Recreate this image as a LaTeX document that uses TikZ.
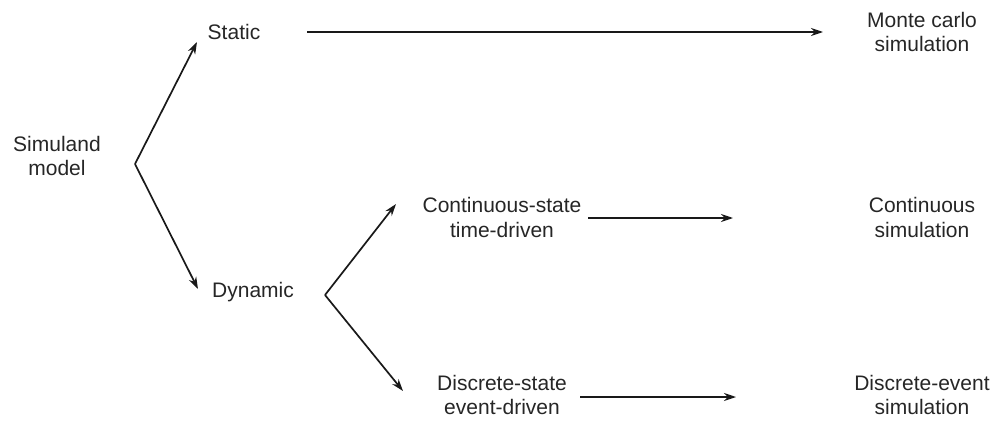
\documentclass[tikz,border=0pt]{standalone}
\usepackage{fontspec}
\setmainfont{Liberation Sans}
\usetikzlibrary{arrows.meta}
\begin{document}
\begin{tikzpicture}[x=1pt,y=-1pt,
  lbl/.style={align=center,inner sep=0pt,font=\fontsize{21}{24.5}\selectfont,text=black!85},
  arr/.style={line width=1.7pt,-{Stealth[length=12pt,width=8pt]},black!90}]
\useasboundingbox (0,0) rectangle (1003,420);
% nodes
\node[lbl] (sim) at (57,156) {Simuland\\model};
\node[lbl] (static) at (234,32) {Static};
\node[lbl] (monte) at (922,32) {Monte carlo\\simulation};
\node[lbl] (dyn) at (253,292) {Dynamic};
\node[lbl] (cont) at (502,217.5) {Continuous-state\\time-driven};
\node[lbl] (csim) at (922,217.5) {Continuous\\simulation};
\node[lbl] (disc) at (502,395) {Discrete-state\\event-driven};
\node[lbl] (dsim) at (922,395) {Discrete-event\\simulation};
% fork points and arrow ends
\coordinate (v1) at (135,164);
\coordinate (t1) at (197,42);
\coordinate (t2) at (198,289);
\coordinate (v2) at (325,295);
\coordinate (t3) at (396,204);
\coordinate (t4) at (403,391);
\draw[arr] (v1) -- (t1);
\draw[arr] (v1) -- (t2);
\draw[arr] (v2) -- (t3);
\draw[arr] (v2) -- (t4);
% horizontal connectors
\coordinate (h1s) at (307,32);  \coordinate (h1e) at (823,32);
\coordinate (h2s) at (588,218); \coordinate (h2e) at (733,218);
\coordinate (h3s) at (580,397); \coordinate (h3e) at (736,397);
\draw[arr] (h1s) -- (h1e);
\draw[arr] (h2s) -- (h2e);
\draw[arr] (h3s) -- (h3e);
\end{tikzpicture}
\end{document}
